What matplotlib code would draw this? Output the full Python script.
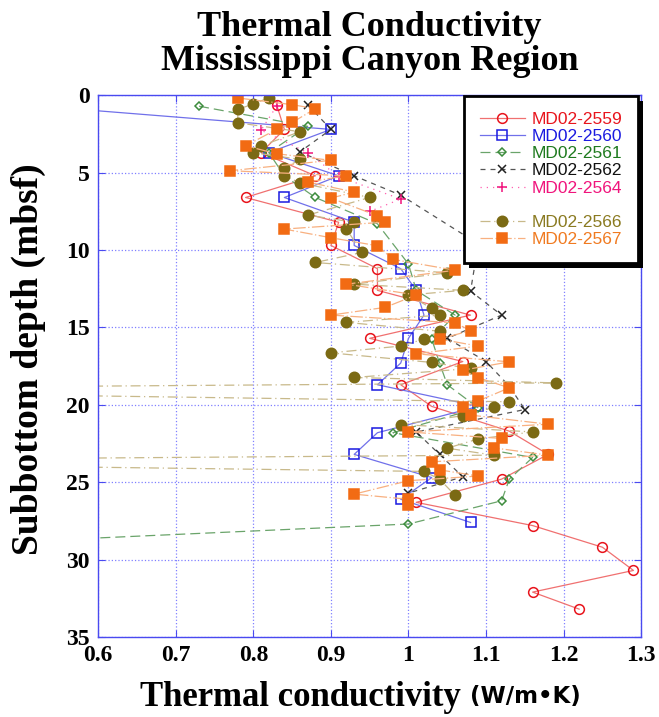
# Thermal conductivity profiles, Mississippi Canyon region cores

import matplotlib.pyplot as plt
import matplotlib.patheffects as pe
from matplotlib.lines import Line2D
from matplotlib.ticker import FuncFormatter

# depth (mbsf) / thermal conductivity (W/m K) per core
d2559 = [0.6, 2.2, 3.7, 5.2, 6.6, 8.2, 9.7, 11.2, 12.6, 14.2, 15.7, 17.2, 18.7, 20.1, 21.7,
         23.2, 24.8, 26.3, 27.8, 29.2, 30.7, 32.1, 33.2]
k2559 = [0.83, 0.84, 0.81, 0.88, 0.79, 0.91, 0.90, 0.96, 0.96, 1.08, 0.95, 1.07, 0.99, 1.03, 1.13,
         1.18, 1.12, 1.01, 1.16, 1.25, 1.29, 1.16, 1.22]

d2560 = [0.6, 2.2, 3.7, 5.2, 6.6, 8.2, 9.7, 11.2, 12.6, 14.2, 15.7, 17.3, 18.7, 20.1, 21.8,
         23.2, 24.7, 26.1, 27.6]
k2560 = [0.50, 0.90, 0.82, 0.91, 0.84, 0.93, 0.93, 0.99, 1.01, 1.02, 1.00, 0.99, 0.96, 1.09, 0.96,
         0.93, 1.03, 0.99, 1.08]

d2561 = [0.7, 2.0, 3.7, 5.2, 6.6, 8.3, 10.9, 12.6, 14.2, 15.75, 17.3, 18.7, 20.2, 21.8, 23.4,
         24.8, 26.2, 27.7, 29.5]
k2561 = [0.73, 0.87, 0.82, 0.84, 0.88, 0.96, 1.00, 1.01, 1.06, 1.03, 1.04, 1.05, 1.09, 0.98, 1.16,
         1.13, 1.12, 1.00, 0.20]

d2562 = [0.6, 2.2, 3.65, 5.2, 6.45, 9.6, 12.65, 14.2, 15.7, 17.2, 18.8, 20.3, 21.75, 23.2,
         24.65, 25.7]
k2562 = [0.87, 0.90, 0.86, 0.93, 0.99, 1.09, 1.08, 1.12, 1.05, 1.10, 1.13, 1.15, 1.01, 1.04,
         1.07, 1.00]

d2564 = [0.7, 2.25, 3.7, 5.25, 6.7, 7.5]
k2564 = [0.83, 0.81, 0.87, 0.91, 0.99, 0.95]

d2566 = [0.15, 0.56, 0.9, 1.77, 2.35, 3.26, 3.7, 4.14, 4.72, 5.2, 5.65, 6.6, 7.74, 8.2, 8.64,
         10.15, 10.8, 11.47, 12.2, 12.6, 12.9, 13.77, 14.2, 14.67, 15.24, 15.75, 16.2, 16.64,
         17.26, 17.65, 18.23, 18.58, 19.0, 19.8, 20.17, 20.7, 21.27, 21.75, 22.2, 22.8, 23.25,
         23.65, 24.3, 24.8, 25.84]
k2566 = [0.82, 0.80, 0.78, 0.78, 0.86, 0.81, 0.80, 0.86, 0.84, 0.84, 0.86, 0.95, 0.87, 0.93, 0.92,
         0.94, 0.88, 1.05, 0.93, 1.07, 1.00, 1.03, 1.04, 0.92, 1.04, 1.02, 0.99, 0.90,
         1.03, 1.08, 0.93, 1.19, 0.0, 1.13, 1.11, 1.07, 0.99, 1.16, 1.09, 1.05, 1.11,
         0.0, 1.02, 1.04, 1.06]

d2567 = [0.17, 0.6, 0.86, 1.75, 2.2, 3.26, 3.77, 4.2, 4.87, 5.2, 5.6, 6.25, 6.64, 7.78, 8.19,
         8.64, 9.2, 9.72, 10.6, 11.3, 12.2, 12.9, 13.7, 14.2, 14.7, 15.2, 15.75, 16.2, 16.7,
         17.22, 17.76, 18.25, 18.9, 19.74, 20.17, 20.66, 21.25, 21.75, 22.17, 22.78, 23.25,
         23.68, 24.2, 24.6, 24.9, 25.77, 26.1, 26.5]
k2567 = [0.78, 0.85, 0.88, 0.85, 0.83, 0.79, 0.83, 0.90, 0.77, 0.92, 0.87, 0.93, 0.90, 0.96, 0.97,
         0.84, 0.90, 0.96, 0.98, 1.06, 0.92, 1.01, 0.97, 0.90, 1.06, 1.08, 1.04, 1.09, 1.01,
         1.13, 1.07, 1.09, 1.13, 1.09, 1.07, 1.08, 1.18, 1.00, 1.12, 1.11, 1.18,
         1.03, 1.04, 1.09, 1.00, 0.93, 1.00, 1.00]

cores = ["MD02-2559", "MD02-2560", "MD02-2561", "MD02-2562", "MD02-2564", "MD02-2566", "MD02-2567"]
depths = [d2559, d2560, d2561, d2562, d2564, d2566, d2567]
conds = [k2559, k2560, k2561, k2562, k2564, k2566, k2567]

# marker colour, line colour, marker, filled, linestyle, marker size
styles = [
    ("#e8141c", "#f07070", "o", False, "-", 7),
    ("#1a1ae0", "#7070ea", "s", False, "-", 6.5),
    ("#3c8c3c", "#6aa46a", "D", False, (0, (8, 4)), 4.5),
    ("#222222", "#555555", "x", False, (0, (4, 4)), 6),
    ("#f0147c", "#ff60b0", "+", False, (0, (1, 4)), 7),
    ("#7b6a14", "#c8b98a", "o", True, (0, (8, 3, 1, 3)), 7.5),
    ("#f26b13", "#f8b080", "s", True, (0, (10, 2, 1, 2)), 7.5),
]
text_colors = ["#e8141c", "#1a1ae0", "#1e7a1e", "#111111", "#f0147c", "#8a7a20", "#f07a20"]

fig = plt.figure(figsize=(6.59, 7.17), dpi=100)
ax = fig.add_axes([0.149, 0.1116, 0.824, 0.7554])

handles = []
for name, d, k, (mc, lc, mk, filled, ls, ms) in zip(cores, depths, conds, styles):
    h, = ax.plot(k, d, color=lc, linestyle=ls, linewidth=0.9,
                 marker=mk, markersize=ms, markeredgecolor=mc,
                 markerfacecolor=mc if filled else "none",
                 markeredgewidth=1.1, label=name)
    handles.append(h)

ax.set_xlim(0.6, 1.3)
ax.set_ylim(35, 0)
ax.set_xticks([0.6, 0.7, 0.8, 0.9, 1.0, 1.1, 1.2, 1.3])
ax.set_yticks([0, 5, 10, 15, 20, 25, 30, 35])
ax.xaxis.set_major_formatter(FuncFormatter(lambda v, p: "%g" % round(v, 2)))
ax.grid(True, color="#8080ff", linestyle=":", linewidth=0.9)
for s in ax.spines.values():
    s.set_color("#4a4af0")
    s.set_linewidth(1.0)
ax.tick_params(direction="in", colors="#4a4af0", length=5, top=True, right=True,
               labelcolor="black", pad=6)
for lab in ax.get_xticklabels() + ax.get_yticklabels():
    lab.set_fontfamily("Liberation Serif")
    lab.set_fontweight("bold")
    lab.set_fontsize(17)

# legend with blank row between 2564 and 2566
blank = Line2D([], [], color="none")
leg_h = handles[:5] + [blank] + handles[5:]
leg_l = cores[:5] + [" "] + cores[5:]
leg = ax.legend(leg_h, leg_l, loc="upper right", bbox_to_anchor=(0.9945, 0.999),
                borderaxespad=0, fancybox=False, framealpha=1, edgecolor="black",
                prop={"family": "Liberation Sans", "size": 12.5},
                handlelength=2.6, handletextpad=0.4, labelspacing=0.12,
                borderpad=0.9)
leg.get_frame().set_linewidth(2)
leg.get_frame().set_path_effects([pe.SimplePatchShadow(offset=(3.5, -3.5), shadow_rgbFace="black", alpha=1),
                                  pe.Normal()])
colors_l = text_colors[:5] + ["black"] + text_colors[5:]
for t, c in zip(leg.get_texts(), colors_l):
    t.set_color(c)

fig.text(0.561, 0.985, "Thermal Conductivity\nMississippi Canyon Region", ha="center", va="top",
         fontfamily="Liberation Serif", fontweight="bold", fontsize=26, linespacing=1.05)
fig.text(0.043, 0.499, "Subbottom depth (mbsf)", rotation=90, ha="center", va="center",
         fontfamily="Liberation Serif", fontweight="bold", fontsize=27)
fig.text(0.70, 0.015, "Thermal conductivity", ha="right", va="baseline",
         fontfamily="Liberation Serif", fontweight="bold", fontsize=25)
fig.text(0.713, 0.02, "(W/m\u2022K)", ha="left", va="baseline",
         fontfamily="DejaVu Sans", fontweight="bold", fontsize=16.5)

fig.savefig("out.png", dpi=100)
